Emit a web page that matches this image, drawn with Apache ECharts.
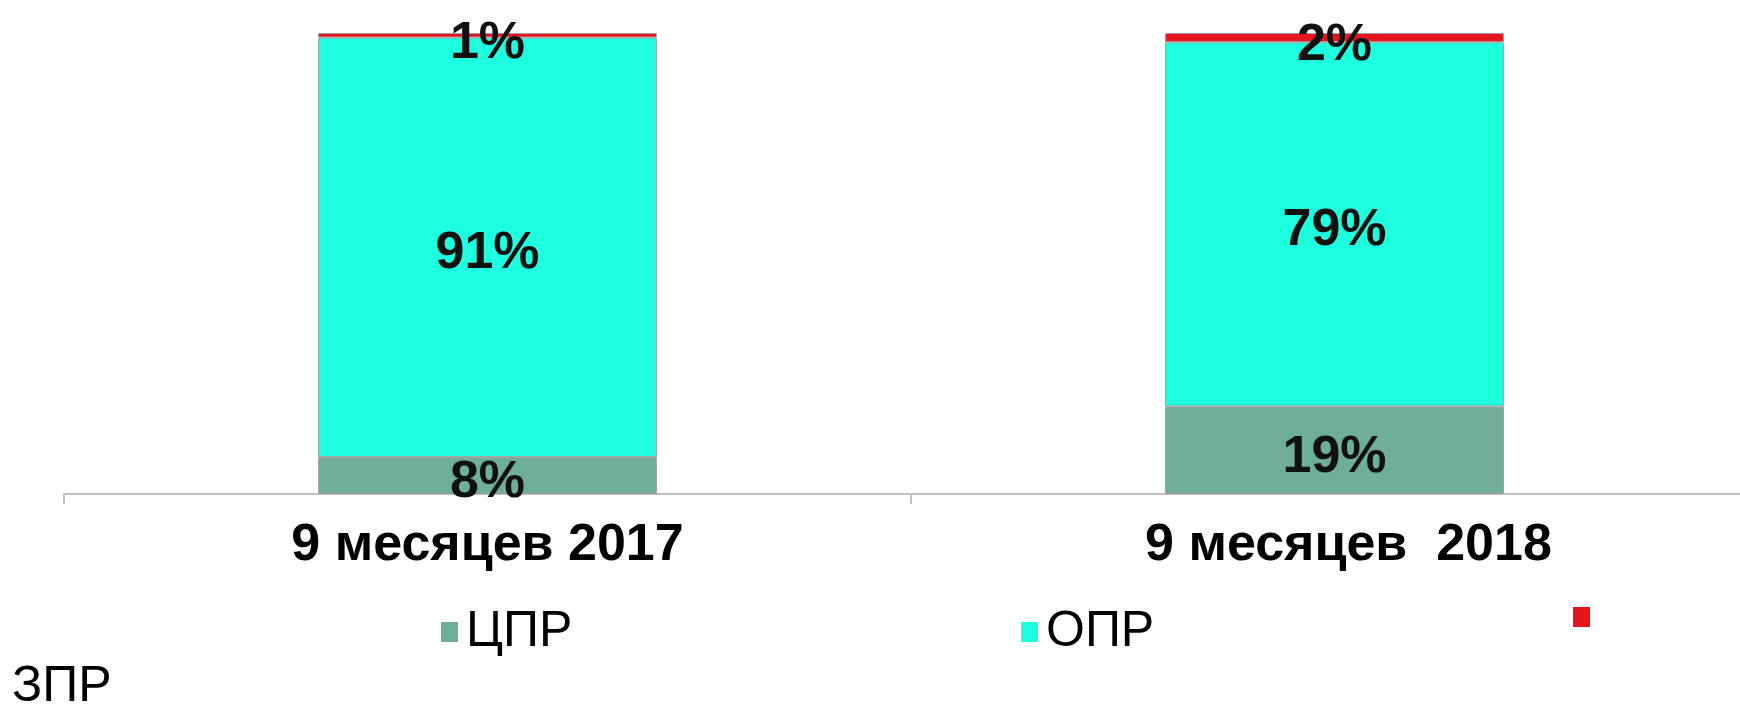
<!DOCTYPE html>
<html>
<head>
<meta charset="utf-8">
<script src="https://cdn.jsdelivr.net/npm/echarts@6/dist/echarts.min.js"></script>
<style>
html,body{margin:0;padding:0;background:#fff;}
#chart{width:1740px;height:709px;}
</style>
</head>
<body>
<div id="chart"></div>
<script>
const categories = ['9 месяцев 2017', '9 месяцев  2018'];
const seriesNames = ['ЦПР', 'ОПР', 'ЗПР'];
const cprValues = [8, 19];
const oprValues = [91, 79];
const zprValues = [1, 2];

const FONT = "'Liberation Sans', Arial, sans-serif";
const colors = ['#6FAE9B', '#1EFFE0', '#E5141E'];

const chart = echarts.init(document.getElementById('chart'));

function barSeries(name, data, color, offsetY) {
  return {
    name: name,
    type: 'bar',
    stack: 'total',
    data: data,
    barWidth: '40%',
    itemStyle: { color: color, borderColor: '#a0a0a0', borderWidth: 1 },
    label: {
      show: true,
      position: 'inside',
      formatter: '{c}%',
      color: '#111',
      fontFamily: FONT,
      fontWeight: 'bold',
      fontSize: 52,
      offset: [0, offsetY]
    }
  };
}

function legendAt(left, name, hideText) {
  return {
    data: [name],
    left: left,
    top: 607,
    padding: 0,
    icon: 'rect',
    itemWidth: 17,
    itemHeight: 20,
    itemStyle: { borderWidth: 0 },
    selectedMode: false,
    formatter: hideText ? function () { return ''; } : '{name}',
    textStyle: { fontFamily: FONT, fontSize: 50, lineHeight: 50, color: '#000', padding: [0, 0, 0, 3] }
  };
}

const categoryData = categories.map(function (c, i) {
  return i === 1 ? { value: c, textStyle: { padding: [0, 0, 0, 28] } } : c;
});

chart.setOption({
  animation: false,
  backgroundColor: '#ffffff',
  grid: { left: 64, width: 1694, top: 33, bottom: 215, containLabel: false, outerBoundsMode: 'none' },
  xAxis: {
    type: 'category',
    data: categoryData,
    axisLine: { show: true, lineStyle: { color: '#c0c0c0', width: 2 } },
    axisTick: { show: true, length: 10, lineStyle: { color: '#c0c0c0', width: 2 } },
    axisLabel: {
      color: '#000',
      fontFamily: FONT,
      fontWeight: 'bold',
      fontSize: 52,
      lineHeight: 52,
      margin: 26
    }
  },
  yAxis: { type: 'value', min: 0, max: 100, show: false, splitLine: { show: false } },
  legend: [
    legendAt(441, seriesNames[0], false),
    legendAt(1021, seriesNames[1], false),
    legendAt(1573, seriesNames[2], true)
  ],
  graphic: [{
    type: 'text',
    left: 12,
    top: 662,
    style: { text: seriesNames[2], font: "50px " + FONT, fill: '#000' }
  }],
  series: [
    barSeries(seriesNames[0], cprValues, colors[0], 7),
    barSeries(seriesNames[1], oprValues, colors[1], 6),
    barSeries(seriesNames[2], zprValues, colors[2], 8)
  ]
});
</script>
</body>
</html>
